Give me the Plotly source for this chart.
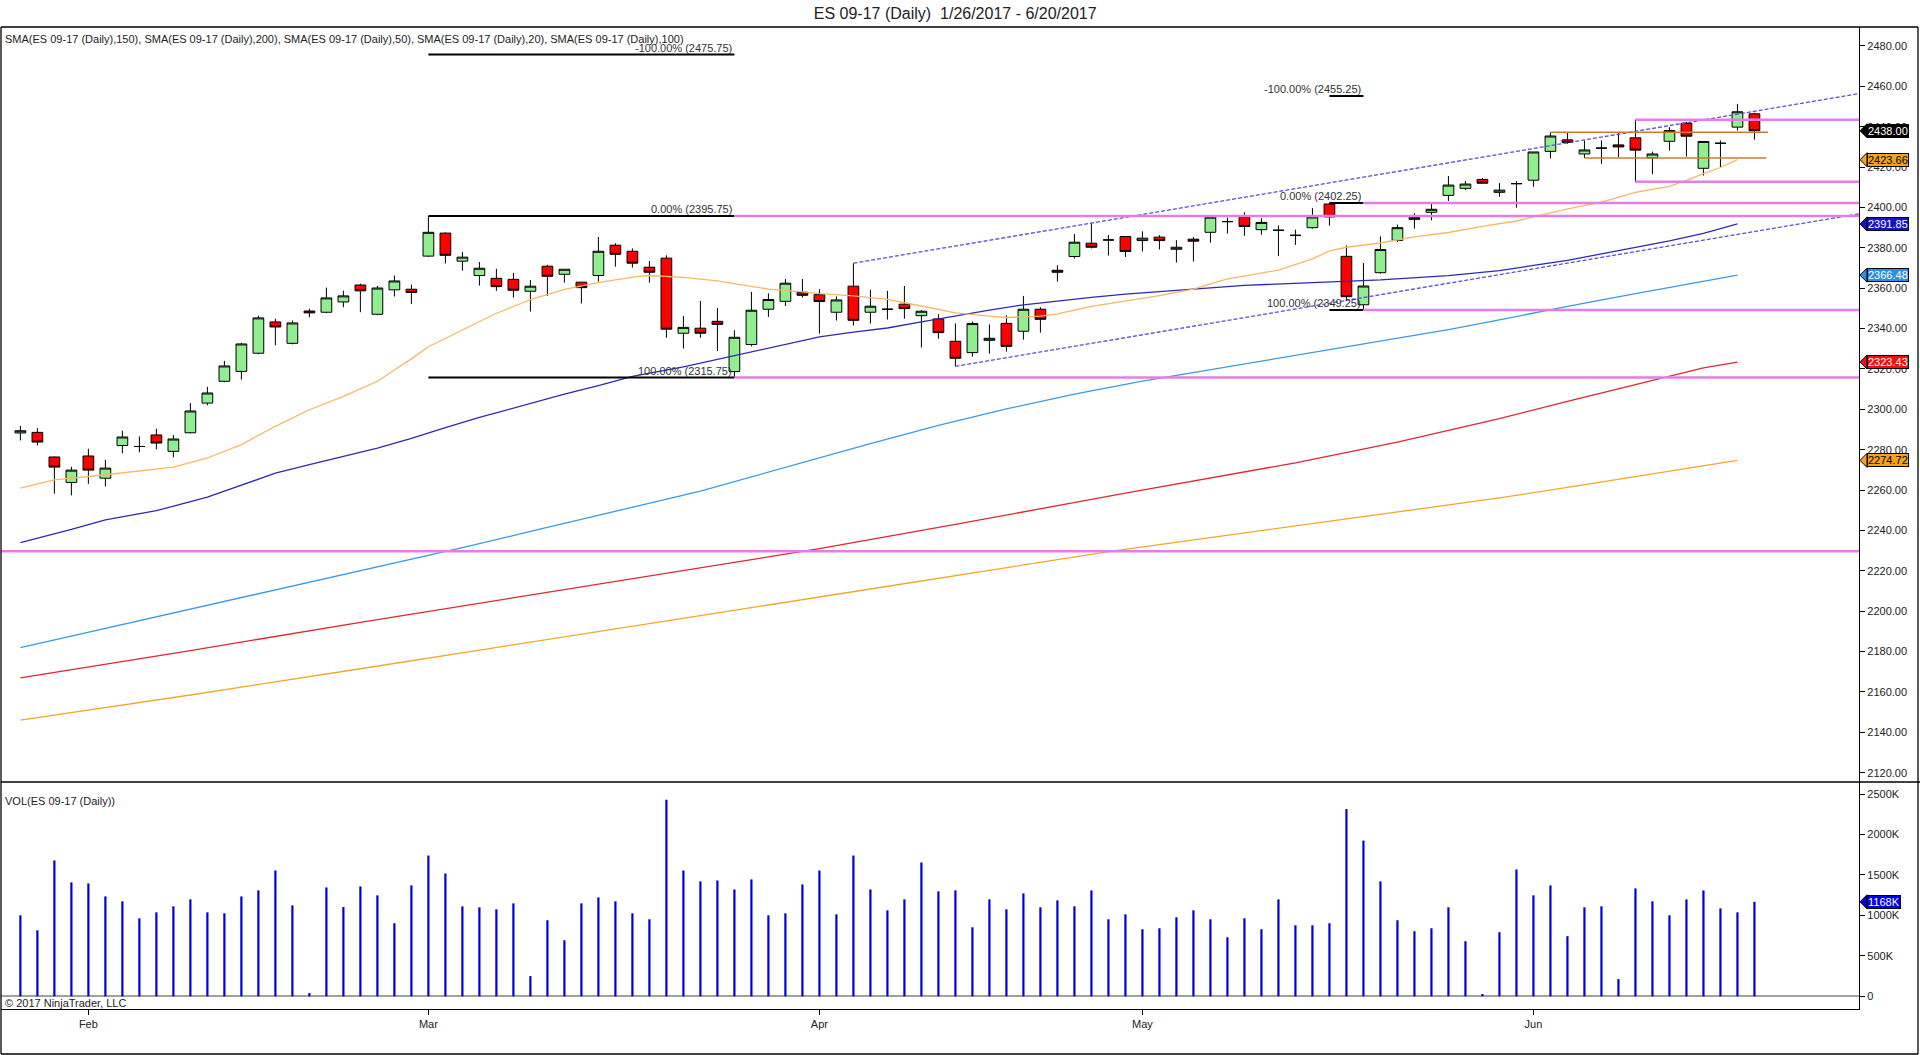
import pandas as pd
import plotly.graph_objects as go

# ---- data ----
dates = [d for d in pd.bdate_range("2017-01-26", "2017-06-20") if d != pd.Timestamp("2017-04-14")]

opens = [2288.3, 2288.6, 2276.4, 2263.8, 2276.9, 2265.9, 2282.1, 2281.6, 2287.3, 2279.2,
         2288.4, 2303.1, 2313.9, 2318.8, 2327.8, 2343.3, 2332.7, 2348.7, 2348.1, 2353.2,
         2361.6, 2347.1, 2359.2, 2359.5, 2375.9, 2387.3, 2373.4, 2366.3, 2364.9, 2364.4,
         2358.5, 2370.9, 2366.9, 2363.0, 2366.3, 2381.3, 2378.3, 2370.4, 2374.9, 2337.7,
         2340.2, 2343.6, 2318.7, 2332.1, 2349.6, 2353.5, 2358.0, 2356.8, 2348.1, 2361.0,
         2348.1, 2349.6, 2352.1, 2346.4, 2344.8, 2333.7, 2328.1, 2334.2, 2342.6, 2338.7,
         2349.6, 2368.9, 2375.7, 2382.3, 2383.9, 2385.6, 2383.6, 2385.3, 2379.3, 2384.3,
         2387.7, 2393.0, 2395.2, 2389.0, 2388.7, 2386.2, 2390.0, 2401.7, 2375.8, 2351.8,
         2367.7, 2383.7, 2394.1, 2397.6, 2406.0, 2409.5, 2413.9, 2407.5, 2411.8, 2413.5,
         2427.8, 2433.5, 2426.5, 2429.4, 2431.0, 2434.5, 2424.6, 2432.8, 2441.7, 2419.4,
         2431.8, 2439.8, 2446.4]
highs = [2291.9, 2290.7, 2276.6, 2271.6, 2280.5, 2275.0, 2289.4, 2286.6, 2290.4, 2287.3,
         2303.1, 2311.2, 2324.0, 2333.0, 2346.4, 2344.9, 2344.0, 2349.9, 2360.3, 2358.8,
         2362.3, 2361.1, 2366.3, 2361.8, 2395.75, 2387.7, 2378.0, 2373.0, 2369.6, 2367.6,
         2364.1, 2371.6, 2369.4, 2363.0, 2385.4, 2382.3, 2379.7, 2373.5, 2376.3, 2346.3,
         2353.7, 2350.2, 2339.2, 2358.2, 2357.5, 2364.6, 2364.6, 2359.5, 2356.0, 2372.4,
         2359.2, 2358.7, 2361.1, 2349.2, 2347.1, 2342.6, 2343.5, 2342.1, 2346.6, 2356.2,
         2350.6, 2371.4, 2386.9, 2392.2, 2386.4, 2385.6, 2388.2, 2386.3, 2383.8, 2385.4,
         2395.2, 2395.0, 2397.7, 2394.6, 2391.1, 2389.0, 2399.7, 2402.25, 2381.2, 2372.5,
         2385.7, 2391.5, 2397.2, 2401.9, 2415.6, 2413.1, 2414.6, 2412.1, 2413.1, 2427.5,
         2437.25, 2437.3, 2433.2, 2433.2, 2436.8, 2443.5, 2427.7, 2439.8, 2442.4, 2432.7,
         2433.2, 2451.3, 2446.9]
lows = [2284.6, 2282.1, 2258.2, 2257.4, 2263.1, 2261.8, 2278.2, 2278.7, 2280.2, 2276.2,
        2288.1, 2302.0, 2313.4, 2314.7, 2327.3, 2331.7, 2332.2, 2345.6, 2347.6, 2350.6,
        2348.1, 2346.6, 2355.9, 2352.2, 2375.5, 2372.2, 2368.7, 2361.3, 2358.7, 2355.4,
        2348.4, 2356.2, 2362.8, 2352.4, 2363.3, 2370.7, 2370.2, 2362.8, 2335.5, 2330.1,
        2335.5, 2328.9, 2315.75, 2331.2, 2345.8, 2351.2, 2355.4, 2337.5, 2344.0, 2341.5,
        2342.5, 2344.5, 2344.9, 2330.6, 2335.0, 2321.3, 2326.1, 2327.6, 2328.6, 2334.5,
        2338.0, 2363.3, 2374.7, 2379.7, 2376.2, 2375.5, 2378.2, 2379.2, 2372.7, 2373.2,
        2382.6, 2387.1, 2386.0, 2386.5, 2375.9, 2381.5, 2389.5, 2391.0, 2353.9, 2349.25,
        2367.2, 2382.9, 2389.5, 2393.6, 2403.2, 2408.6, 2412.0, 2405.3, 2399.9, 2410.3,
        2424.3, 2431.5, 2424.5, 2421.6, 2424.9, 2412.75, 2416.5, 2428.2, 2425.2, 2415.8,
        2419.9, 2438.1, 2433.6]
closes = [2289.4, 2283.8, 2271.4, 2269.9, 2269.9, 2270.9, 2286.3, 2281.6, 2283.3, 2285.3,
          2299.2, 2308.1, 2321.5, 2332.4, 2345.3, 2340.8, 2342.8, 2347.8, 2355.2, 2356.2,
          2358.7, 2360.1, 2363.6, 2357.9, 2387.7, 2376.3, 2375.4, 2369.9, 2360.8, 2359.0,
          2361.0, 2365.9, 2369.4, 2360.3, 2378.3, 2376.8, 2372.4, 2367.9, 2339.7, 2340.6,
          2337.7, 2342.1, 2335.7, 2349.1, 2354.4, 2362.5, 2356.5, 2353.4, 2354.2, 2344.1,
          2351.1, 2349.6, 2349.9, 2348.6, 2338.0, 2325.3, 2342.5, 2335.2, 2331.2, 2349.6,
          2344.6, 2367.9, 2382.8, 2380.3, 2383.9, 2378.2, 2384.8, 2383.6, 2380.3, 2383.3,
          2395.2, 2393.0, 2390.6, 2392.6, 2388.7, 2386.2, 2395.3, 2395.3, 2355.8, 2361.1,
          2379.2, 2390.0, 2395.1, 2399.1, 2411.1, 2411.6, 2412.0, 2408.6, 2411.8, 2427.5,
          2435.4, 2432.2, 2428.5, 2429.4, 2430.0, 2428.4, 2426.5, 2438.1, 2435.3, 2432.7,
          2431.8, 2447.4, 2438.0]
volume_k = [1001, 816, 1679, 1408, 1395, 1235, 1174, 964, 1038, 1112,
            1198, 1038, 1026, 1235, 1309, 1555, 1124, 41, 1346, 1104,
            1358, 1248, 903, 1371, 1740, 1518, 1112, 1100, 1075, 1149,
            250, 940, 693, 1149, 1223, 1174, 1026, 952, 2430, 1555,
            1420, 1432, 1321, 1445, 1001, 1026, 1383, 1555, 1013, 1740,
            1321, 1063, 1198, 1654, 1297, 1309, 853, 1198, 1075, 1272,
            1100, 1186, 1112, 1309, 952, 1013, 829, 841, 977, 1063,
            952, 730, 964, 829, 1198, 878, 878, 903, 2315, 1925,
            1420, 940, 804, 841, 1100, 681, 28, 792, 1568, 1248,
            1371, 743, 1100, 1112, 213, 1334, 1174, 1001, 1198, 1309,
            1087, 1038, 1168]

# moving averages, sampled at bar positions
sma20_x = [0, 2, 5, 9, 11, 13, 15, 17, 19, 21, 22, 23, 24, 26, 28, 30, 32, 34, 36, 37,
           39, 41, 43, 44, 46, 47, 49, 51, 53, 55, 57, 58, 60, 61, 63, 65, 67, 69, 71, 72,
           74, 76, 77, 78, 80, 82, 84, 86, 88, 89, 91, 93, 95, 97, 98, 99, 100, 101]
sma20_y = [2261.0, 2265.1, 2267.6, 2271.4, 2275.9, 2282.5, 2291.6, 2299.8, 2306.4, 2313.9,
           2319.5, 2325.0, 2331.0, 2339.5, 2347.6, 2354.3, 2359.4, 2362.8, 2365.5, 2366.3,
           2365.4, 2363.6, 2361.0, 2359.6, 2358.2, 2357.3, 2356.2, 2354.5, 2351.2, 2347.8,
           2346.2, 2345.5, 2346.2, 2347.3, 2351.0, 2353.8, 2356.3, 2359.6, 2364.6, 2366.0,
           2369.0, 2374.5, 2378.5, 2380.3, 2382.4, 2385.4, 2387.6, 2390.6, 2393.3, 2395.3,
           2399.3, 2402.6, 2407.5, 2410.5, 2413.4, 2416.8, 2419.8, 2423.66]
sma50_x = [0, 3, 5, 8, 11, 13, 15, 17, 19, 21, 23, 25, 27, 30, 32, 34, 36, 39, 42, 45,
           47, 49, 51, 53, 55, 57, 59, 61, 63, 65, 67, 70, 72, 76, 80, 84, 87, 89, 91, 93,
           95, 97, 99, 101]
sma50_y = [2234.0, 2240.5, 2245.3, 2249.8, 2256.5, 2262.6, 2268.4, 2272.6, 2276.7, 2280.8,
           2285.6, 2291.0, 2296.0, 2303.0, 2307.5, 2311.8, 2316.3, 2321.0, 2326.5, 2332.0,
           2335.9, 2338.2, 2340.3, 2343.3, 2346.4, 2349.2, 2351.8, 2353.7, 2355.5, 2357.1,
           2358.4, 2360.2, 2361.4, 2362.8, 2364.1, 2366.2, 2368.7, 2371.3, 2373.8, 2377.0,
           2380.3, 2383.5, 2387.2, 2391.85]
sma100_x = [0, 10, 20, 26, 30, 40, 50, 54, 58, 62, 66, 72, 78, 84, 87, 91, 95, 98, 101]
sma100_y = [2182.0, 2201.0, 2220.0, 2231.5, 2239.5, 2259.5, 2283.0, 2292.0, 2300.2, 2307.5,
            2314.0, 2322.5, 2331.0, 2339.5, 2344.3, 2351.0, 2357.3, 2362.0, 2366.48]
sma150_x = [0, 10, 20, 30, 40, 47, 55, 65, 75, 81, 87, 91, 95, 99, 101]
sma150_y = [2167.0, 2180.5, 2194.5, 2208.0, 2221.5, 2231.0, 2243.0, 2258.5, 2273.5, 2283.8,
            2295.4, 2304.0, 2312.2, 2320.5, 2323.43]
sma200_x = [0, 10, 20, 30, 40, 50, 60, 64, 70, 75, 80, 87, 91, 95, 98, 101]
sma200_y = [2146.0, 2158.5, 2171.5, 2184.5, 2197.8, 2211.0, 2224.2, 2229.5, 2236.5, 2242.3,
            2248.0, 2256.1, 2261.3, 2266.6, 2270.6, 2274.72]

# drawing objects
fib1_levels = [2475.75, 2395.75, 2315.75]
fib2_levels = [2455.25, 2402.25, 2349.25]
fib_pcts = ["-100.00%", "0.00%", "100.00%"]
fib1_span = [24, 42]
fib2_span = [77, 79]
ray_levels = [2395.75, 2315.75, 2402.25, 2349.25, 2443.5, 2412.75, 2229.75]
ray_starts = [42, 42, 79, 79, 95, 95, None]
box_levels = [2437.25, 2424.5]
box_x0 = [90, 92]
box_x1 = [102.8, 102.7]
chan_up_x = [49, 108.15]
chan_up_y = [2372.4, 2456.4]
chan_lo_x = [55, 108.15]
chan_lo_y = [2321.3, 2396.8]

month_names = ["Feb", "Mar", "Apr", "May", "Jun"]

# ---- layout constants ----
FONT = "Arial, 'Liberation Sans', sans-serif"
W, H = 1920, 1055
ML, MR, MT, MB = 1, 61, 27, 46
PW = W - ML - MR
PH = H - MT - MB
VOL_TOP = 227 / PH
X_RANGE = [-1.14, 108.15]
P_RANGE = [2115.4, 2489.4]
V_RANGE = [-157, 2649]

C_SMA20 = "#F5B865"
C_SMA50 = "#2A2AB8"
C_SMA100 = "#3A9AE8"
C_SMA150 = "#E0282D"
C_SMA200 = "#F2A72B"
C_PINK = "#E67DE6"
C_CHAN = "#5A4FD8"
C_BOX = "#CD7A35"


def px_x(px):
    return (px - ML) / PW


def px_y(py):
    return (H - MB - py) / PH


def price_paper(p):
    return VOL_TOP + (p - P_RANGE[0]) / (P_RANGE[1] - P_RANGE[0]) * (1 - VOL_TOP)


def vol_paper(v):
    return (v - V_RANGE[0]) / (V_RANGE[1] - V_RANGE[0]) * VOL_TOP


idx = list(range(len(dates)))
hover = [d.strftime("%m/%d/%Y") for d in dates]

month_ticks = []
for i, d in enumerate(dates):
    if i > 0 and d.month != dates[i - 1].month:
        month_ticks.append(i)

traces = []
for xs, ys, col in [(sma200_x, sma200_y, C_SMA200), (sma150_x, sma150_y, C_SMA150),
                    (sma100_x, sma100_y, C_SMA100), (sma50_x, sma50_y, C_SMA50),
                    (sma20_x, sma20_y, C_SMA20)]:
    traces.append(go.Scatter(x=xs, y=ys, mode="lines", line=dict(color=col, width=1.3),
                             hoverinfo="skip", xaxis="x", yaxis="y"))

for xs, ys in [(chan_up_x, chan_up_y), (chan_lo_x, chan_lo_y)]:
    traces.append(go.Scatter(x=xs, y=ys, mode="lines",
                             line=dict(color=C_CHAN, width=1.3, dash="4px,2px"),
                             hoverinfo="skip", xaxis="x", yaxis="y"))

traces.append(go.Candlestick(
    x=idx, open=opens, high=highs, low=lows, close=closes, hovertext=hover,
    increasing=dict(line=dict(color="black", width=1), fillcolor="#90EE90"),
    decreasing=dict(line=dict(color="black", width=1), fillcolor="#FF0000"),
    whiskerwidth=0, xaxis="x", yaxis="y"))

traces.append(go.Bar(x=idx, y=volume_k, width=0.13, marker=dict(color="#0000DD", line=dict(width=0)),
                     hovertext=hover, hoverinfo="text+y", xaxis="x2", yaxis="y2"))

shapes = []
annotations = []

# fib retracements (black) with labels
for span, levels in [(fib1_span, fib1_levels), (fib2_span, fib2_levels)]:
    for pct, lv in zip(fib_pcts, levels):
        shapes.append(dict(type="line", xref="x", yref="y", x0=span[0], x1=span[1], y0=lv, y1=lv,
                           line=dict(color="black", width=2), layer="above"))
        annotations.append(dict(xref="x", yref="y", x=span[1], y=lv, xanchor="right", yanchor="middle",
                                yshift=7, showarrow=False, text=f"{pct} ({lv:.2f})",
                                font=dict(family=FONT, size=11, color="#333333")))

# pink horizontal rays
for lv, st in zip(ray_levels, ray_starts):
    shapes.append(dict(type="line", xref="x", yref="y", x0=X_RANGE[0] if st is None else st,
                       x1=X_RANGE[1], y0=lv, y1=lv, line=dict(color=C_PINK, width=2.5), layer="above"))

# orange range lines
for lv, a, b in zip(box_levels, box_x0, box_x1):
    shapes.append(dict(type="line", xref="x", yref="y", x0=a, x1=b, y0=lv, y1=lv,
                       line=dict(color=C_BOX, width=1.5), layer="above"))

# frame
frame_col = "black"
right_edge = px_x(1918)
bottom_edge = px_y(1054)
for x0, y0, x1, y1 in [(0, 1, right_edge, 1), (0, VOL_TOP, px_x(1920), VOL_TOP),
                       (0, bottom_edge, 0, 1), (right_edge, bottom_edge, right_edge, 1),
                       (0, bottom_edge, right_edge, bottom_edge)]:
    shapes.append(dict(type="line", xref="paper", yref="paper", x0=x0, y0=y0, x1=x1, y1=y1,
                       line=dict(color=frame_col, width=1.3), layer="above"))

# value flags on the right axis
flags = [
    (closes[-1], "black", "white", "p", f"{closes[-1]:.2f}"),
    (sma20_y[-1], "#F7A21B", "black", "p", f"{sma20_y[-1]:.2f}"),
    (sma50_y[-1], "#1515C8", "white", "p", f"{sma50_y[-1]:.2f}"),
    (sma100_y[-1], "#2F8FE6", "white", "p", f"{sma100_y[-1]:.2f}"),
    (sma150_y[-1], "#F01010", "white", "p", f"{sma150_y[-1]:.2f}"),
    (sma200_y[-1], "#F7A21B", "black", "p", f"{sma200_y[-1]:.2f}"),
    (volume_k[-1], "#0000EE", "white", "v", f"{volume_k[-1]}K"),
]
tip_x, base_x = px_x(1860), px_x(1867)
half = 7 / PH
for val, bg, fg, kind, label in flags:
    yp = price_paper(val) if kind == "p" else vol_paper(val)
    shapes.append(dict(type="path", xref="paper", yref="paper",
                       path=f"M {tip_x},{yp} L {base_x},{yp + half} L {base_x},{yp - half} Z",
                       fillcolor=bg, line=dict(color="black", width=1), layer="above"))
    annotations.append(dict(xref="paper", yref="paper", x=base_x, y=yp, xanchor="left", yanchor="middle",
                            showarrow=False, text=label, bgcolor=bg, bordercolor="black",
                            borderwidth=1, borderpad=0, font=dict(family=FONT, size=11, color=fg)))

# panel texts
annotations.append(dict(xref="paper", yref="paper", x=px_x(3), y=px_y(39), xanchor="left", yanchor="middle",
                        showarrow=False, font=dict(family=FONT, size=11, color="#222222"),
                        text="SMA(ES 09-17 (Daily),150), SMA(ES 09-17 (Daily),200), SMA(ES 09-17 (Daily),50), "
                             "SMA(ES 09-17 (Daily),20), SMA(ES 09-17 (Daily),100)"))
annotations.append(dict(xref="paper", yref="paper", x=px_x(3), y=px_y(801), xanchor="left", yanchor="middle",
                        showarrow=False, font=dict(family=FONT, size=11, color="#222222"),
                        text="VOL(ES 09-17 (Daily))"))
annotations.append(dict(xref="paper", yref="paper", x=px_x(3), y=px_y(1003), xanchor="left", yanchor="middle",
                        showarrow=False, font=dict(family=FONT, size=11, color="#222222"),
                        text="© 2017 NinjaTrader, LLC"))

axis_font = dict(family=FONT, size=11, color="#222222")
layout = go.Layout(
    width=W, height=H,
    margin=dict(l=ML, r=MR, t=MT, b=MB),
    paper_bgcolor="white", plot_bgcolor="white",
    showlegend=False,
    hovermode="closest",
    boxgap=0.37, boxgroupgap=0,
    title=dict(text="ES 09-17 (Daily)  1/26/2017 - 6/20/2017", x=0.4975, xanchor="center",
               y=1 - 13.5 / H, yanchor="middle", font=dict(family=FONT, size=16, color="#222222")),
    xaxis=dict(domain=[0, 1], anchor="y", range=X_RANGE, showticklabels=False, ticks="",
               showgrid=False, zeroline=False, showline=False, rangeslider=dict(visible=False)),
    xaxis2=dict(domain=[0, 1], anchor="y2", matches="x", range=X_RANGE, tickvals=month_ticks,
                ticktext=month_names, ticks="outside", ticklen=5, tickcolor="black",
                tickfont=axis_font, showgrid=False, zeroline=False, showline=True,
                linecolor="black", linewidth=1.3),
    yaxis=dict(domain=[VOL_TOP, 1], anchor="x", side="right", range=P_RANGE,
               tickvals=list(range(2120, 2481, 20)),
               ticktext=[f"{v:.2f}" for v in range(2120, 2481, 20)],
               ticks="outside", ticklen=5, tickcolor="black", tickfont=axis_font,
               showgrid=False, zeroline=False, showline=True, linecolor="black", linewidth=1.3),
    yaxis2=dict(domain=[0, VOL_TOP], anchor="x2", side="right", range=V_RANGE,
                tickvals=[0, 500, 1000, 1500, 2000, 2500],
                ticktext=["0", "500K", "1000K", "1500K", "2000K", "2500K"],
                ticks="outside", ticklen=5, tickcolor="black", tickfont=axis_font,
                showgrid=False, zeroline=True, zerolinecolor="#A0A0A0", zerolinewidth=1.5,
                showline=True, linecolor="black", linewidth=1.3),
    shapes=shapes,
    annotations=annotations,
)

fig = go.Figure(data=traces, layout=layout)
# the page's default body margin would push the 1920px figure off the window
fig.write_html("out.html", config={"displayModeBar": False},
               post_script="document.body.style.margin='0';document.body.style.overflow='hidden';")
